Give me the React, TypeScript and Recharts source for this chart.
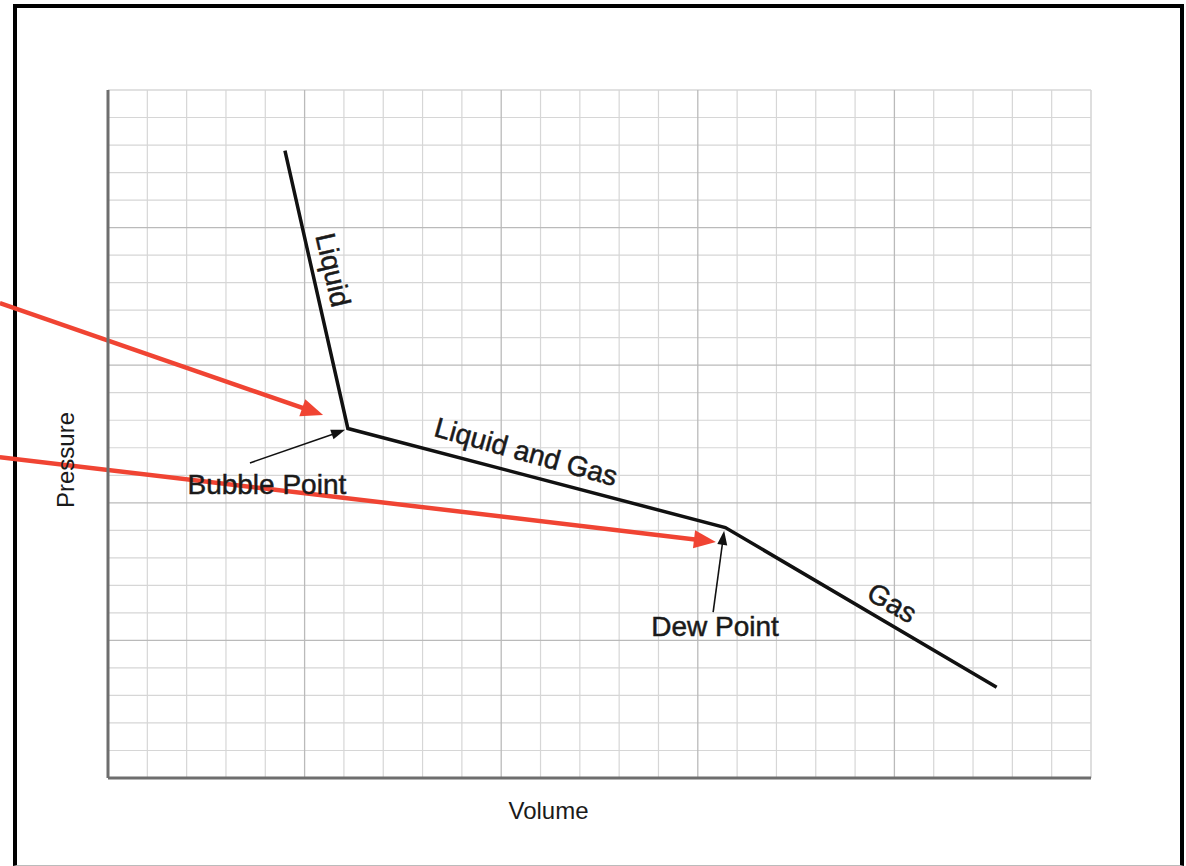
import React from 'react';
import { LineChart, Line, XAxis, YAxis, CartesianGrid, ReferenceLine, ReferenceDot } from 'recharts';

// Curve: volume (x) vs pressure (y), in grid units
const volume = [4.5, 6.1, 15.7, 22.6];
const pressure = [22.8, 12.7, 9.1, 3.3];

// Grid ticks
const gridTicks = [0, 1, 2, 3, 4, 5, 6, 7, 8, 9, 10, 11, 12, 13, 14, 15, 16, 17, 18, 19, 20, 21, 22, 23, 24, 25];
const minorTicks = [1, 2, 3, 4, 6, 7, 8, 9, 11, 12, 13, 14, 16, 17, 18, 19, 21, 22, 23, 24, 25];
const majorTicks = [5, 10, 15, 20];

// Text annotations
const labelTexts = ['Liquid', 'Liquid and Gas', 'Gas', 'Bubble Point', 'Dew Point'];
const labelX = [5.72, 10.63, 19.94, 4.04, 15.44];
const labelY = [18.46, 11.85, 6.36, 10.68, 5.49];
const labelAngle = [77, 15.5, 30, 0, 0];

// Black pointer arrows (from -> to)
const blackFromX = [3.61, 15.39];
const blackFromY = [11.45, 6.03];
const blackToX = [6.03, 15.67];
const blackToY = [12.65, 8.98];

// Red overlay arrows (from -> to)
const redFromX = [-2.75, -2.75];
const redFromY = [17.26, 11.66];
const redToX = [5.47, 15.46];
const redToY = [13.19, 8.58];

const FONT = '"Liberation Sans", Arial, Helvetica, sans-serif';

const data = volume.map((v, i) => ({ v, p: pressure[i] }));

const arrowShape = (color: string, w: number, headLen: number, headHalf: number) => (p: any) => {
  const { x1, y1, x2, y2 } = p;
  const dx = x2 - x1;
  const dy = y2 - y1;
  const len = Math.hypot(dx, dy) || 1;
  const ux = dx / len;
  const uy = dy / len;
  const bx = x2 - ux * headLen;
  const by = y2 - uy * headLen;
  const nx = -uy;
  const ny = ux;
  return (
    <g>
      <line x1={x1} y1={y1} x2={bx + ux} y2={by + uy} stroke={color} strokeWidth={w} />
      <polygon
        points={`${x2},${y2} ${bx + nx * headHalf},${by + ny * headHalf} ${bx - nx * headHalf},${by - ny * headHalf}`}
        fill={color}
      />
    </g>
  );
};

const textShape = (text: string, angle: number, size: number) => (p: any) => (
  <text
    x={p.cx}
    y={p.cy}
    transform={`rotate(${angle}, ${p.cx}, ${p.cy})`}
    textAnchor="middle"
    dominantBaseline="central"
    fontFamily={FONT}
    fontSize={size}
    fill="#1a1a1a"
    stroke="#1a1a1a"
    strokeWidth={0.5}
  >
    {text}
  </text>
);

export default function App() {
  return (
    <div style={{ position: 'absolute', left: 0, top: 0, width: 1186, height: 866, background: '#fff' }}>
      <div
        style={{
          position: 'absolute',
          left: 13,
          top: 4,
          width: 1171,
          height: 862,
          boxSizing: 'border-box',
          borderTop: '4px solid #000',
          borderLeft: '4px solid #000',
          borderRight: '4px solid #000',
          borderBottom: '1px solid #bbb',
        }}
      />
      <div style={{ position: 'absolute', left: 0, top: 0 }}>
        <LineChart width={1186} height={866} data={data} margin={{ top: 90, right: 95, left: 0, bottom: 0 }}>
          <CartesianGrid stroke="#d9d9d9" strokeWidth={1} />
          {minorTicks.map((t) => (
            <ReferenceLine key={'nx' + t} x={t} stroke="#d6d6d6" strokeWidth={1.2} />
          ))}
          {minorTicks.map((t) => (
            <ReferenceLine key={'ny' + t} y={t} stroke="#d6d6d6" strokeWidth={1.2} />
          ))}
          {majorTicks.map((t) => (
            <ReferenceLine key={'mx' + t} x={t} stroke="#bababa" strokeWidth={1.3} />
          ))}
          {majorTicks.map((t) => (
            <ReferenceLine key={'my' + t} y={t} stroke="#bababa" strokeWidth={1.3} />
          ))}
          <XAxis
            type="number"
            dataKey="v"
            domain={[0, 25]}
            ticks={gridTicks}
            allowDataOverflow
            tick={false}
            tickLine={false}
            axisLine={{ stroke: '#6e6e6e', strokeWidth: 3 }}
            height={88}
            label={{ value: 'Volume', position: 'center', dx: -51, dy: -12, fontSize: 24, fontFamily: FONT, fill: '#1a1a1a' }}
          />
          <YAxis
            type="number"
            domain={[0, 25]}
            ticks={gridTicks}
            allowDataOverflow
            tick={false}
            tickLine={false}
            axisLine={{ stroke: '#6e6e6e', strokeWidth: 3 }}
            width={108}
            label={{ value: 'Pressure', position: 'center', angle: -90, dx: 11, dy: 26, fontSize: 24, fontFamily: FONT, fill: '#1a1a1a' }}
          />
          <Line
            type="linear"
            dataKey="p"
            stroke="#111"
            strokeWidth={3.5}
            dot={false}
            activeDot={false}
            isAnimationActive={false}
          />
          {blackFromX.map((fx, i) => (
            <ReferenceLine
              key={'ba' + i}
              ifOverflow="visible"
              segment={[
                { x: fx, y: blackFromY[i] },
                { x: blackToX[i], y: blackToY[i] },
              ]}
              shape={arrowShape('#111', 1.6, 14, 5)}
            />
          ))}
          {labelTexts.map((t, i) => (
            <ReferenceDot
              key={'lb' + i}
              x={labelX[i]}
              y={labelY[i]}
              r={1}
              ifOverflow="visible"
              shape={textShape(t, labelAngle[i], 28)}
            />
          ))}
          {redFromX.map((fx, i) => (
            <ReferenceLine
              key={'ra' + i}
              ifOverflow="visible"
              segment={[
                { x: fx, y: redFromY[i] },
                { x: redToX[i], y: redToY[i] },
              ]}
              shape={arrowShape('#f04433', 4.5, 22, 9)}
            />
          ))}
        </LineChart>
      </div>
    </div>
  );
}
